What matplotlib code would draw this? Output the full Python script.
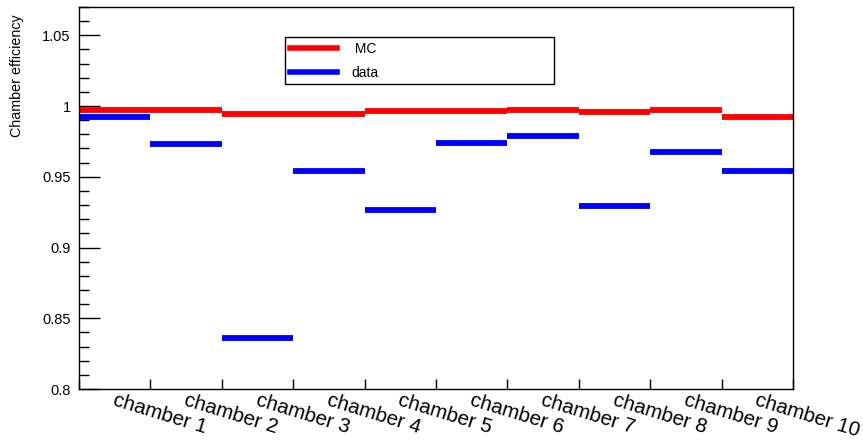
import numpy as np
import matplotlib.pyplot as plt
from matplotlib.ticker import MultipleLocator
from matplotlib.lines import Line2D

plt.rcParams["font.family"] = ["Liberation Sans", "DejaVu Sans"]

chambers = ["chamber %d" % i for i in range(1, 11)]
mc_eff = [0.9969, 0.9969, 0.9943, 0.9945, 0.9965, 0.9962, 0.9974, 0.9958, 0.9969, 0.9922]
data_eff = [0.9920, 0.9733, 0.8364, 0.9543, 0.9267, 0.9738, 0.9788, 0.9290, 0.9677, 0.9543]

edges = np.arange(len(chambers) + 1)

fig = plt.figure(figsize=(8.63, 4.41), dpi=100)
ax = fig.add_axes([0.0915, 0.1179, 0.8275, 0.8662])

ax.hlines(mc_eff, edges[:-1], edges[1:], color="#ff0000", linewidth=4.2)
ax.hlines(data_eff, edges[:-1], edges[1:], color="#0000ff", linewidth=4.2)

ax.set_xlim(0, len(chambers))
ax.set_ylim(0.8, 1.07)

# y axis: ROOT style ticks on the left only
ax.yaxis.set_major_locator(MultipleLocator(0.05))
ax.yaxis.set_minor_locator(MultipleLocator(0.01))
ax.tick_params(axis="y", which="major", direction="in", length=15, width=1,
               labelsize=10.5, left=True, right=False, pad=6)
ax.tick_params(axis="y", which="minor", direction="in", length=7.5, width=1,
               left=True, right=False)
ax.set_yticks([0.8, 0.85, 0.9, 0.95, 1.0, 1.05])
ax.set_yticklabels(["0.8", "0.85", "0.9", "0.95", "1", "1.05"])

# x axis: ticks at bin edges, labels drawn by hand rotated
ax.set_xticks(edges)
ax.set_xticklabels([])
ax.tick_params(axis="x", which="major", direction="in", length=7.5, width=1,
               top=False, bottom=True)
for i, name in enumerate(chambers):
    ax.text(i + 0.52, 0.7988, name, rotation=-17, rotation_mode="anchor",
            ha="left", va="top", fontsize=14.8, clip_on=False)

for s in ax.spines.values():
    s.set_linewidth(1)

ax.set_ylabel("Chamber efficiency", fontsize=10.3)
ax.yaxis.set_label_coords(-0.077, 0.82)

handles = [Line2D([], [], color="#ff0000", linewidth=4.0),
           Line2D([], [], color="#0000ff", linewidth=4.0)]
leg = ax.legend(handles, [" MC", "data"], loc="upper left",
                bbox_to_anchor=(0.2885, 0.7958, 0.3767, 0.1257), mode="expand",
                fancybox=False, edgecolor="black", framealpha=1, fontsize=10,
                handlelength=3.4, handletextpad=1.0, borderpad=0.35,
                labelspacing=0.7, borderaxespad=0.0)
leg.get_frame().set_linewidth(1)

fig.savefig("out.png", dpi=100)
